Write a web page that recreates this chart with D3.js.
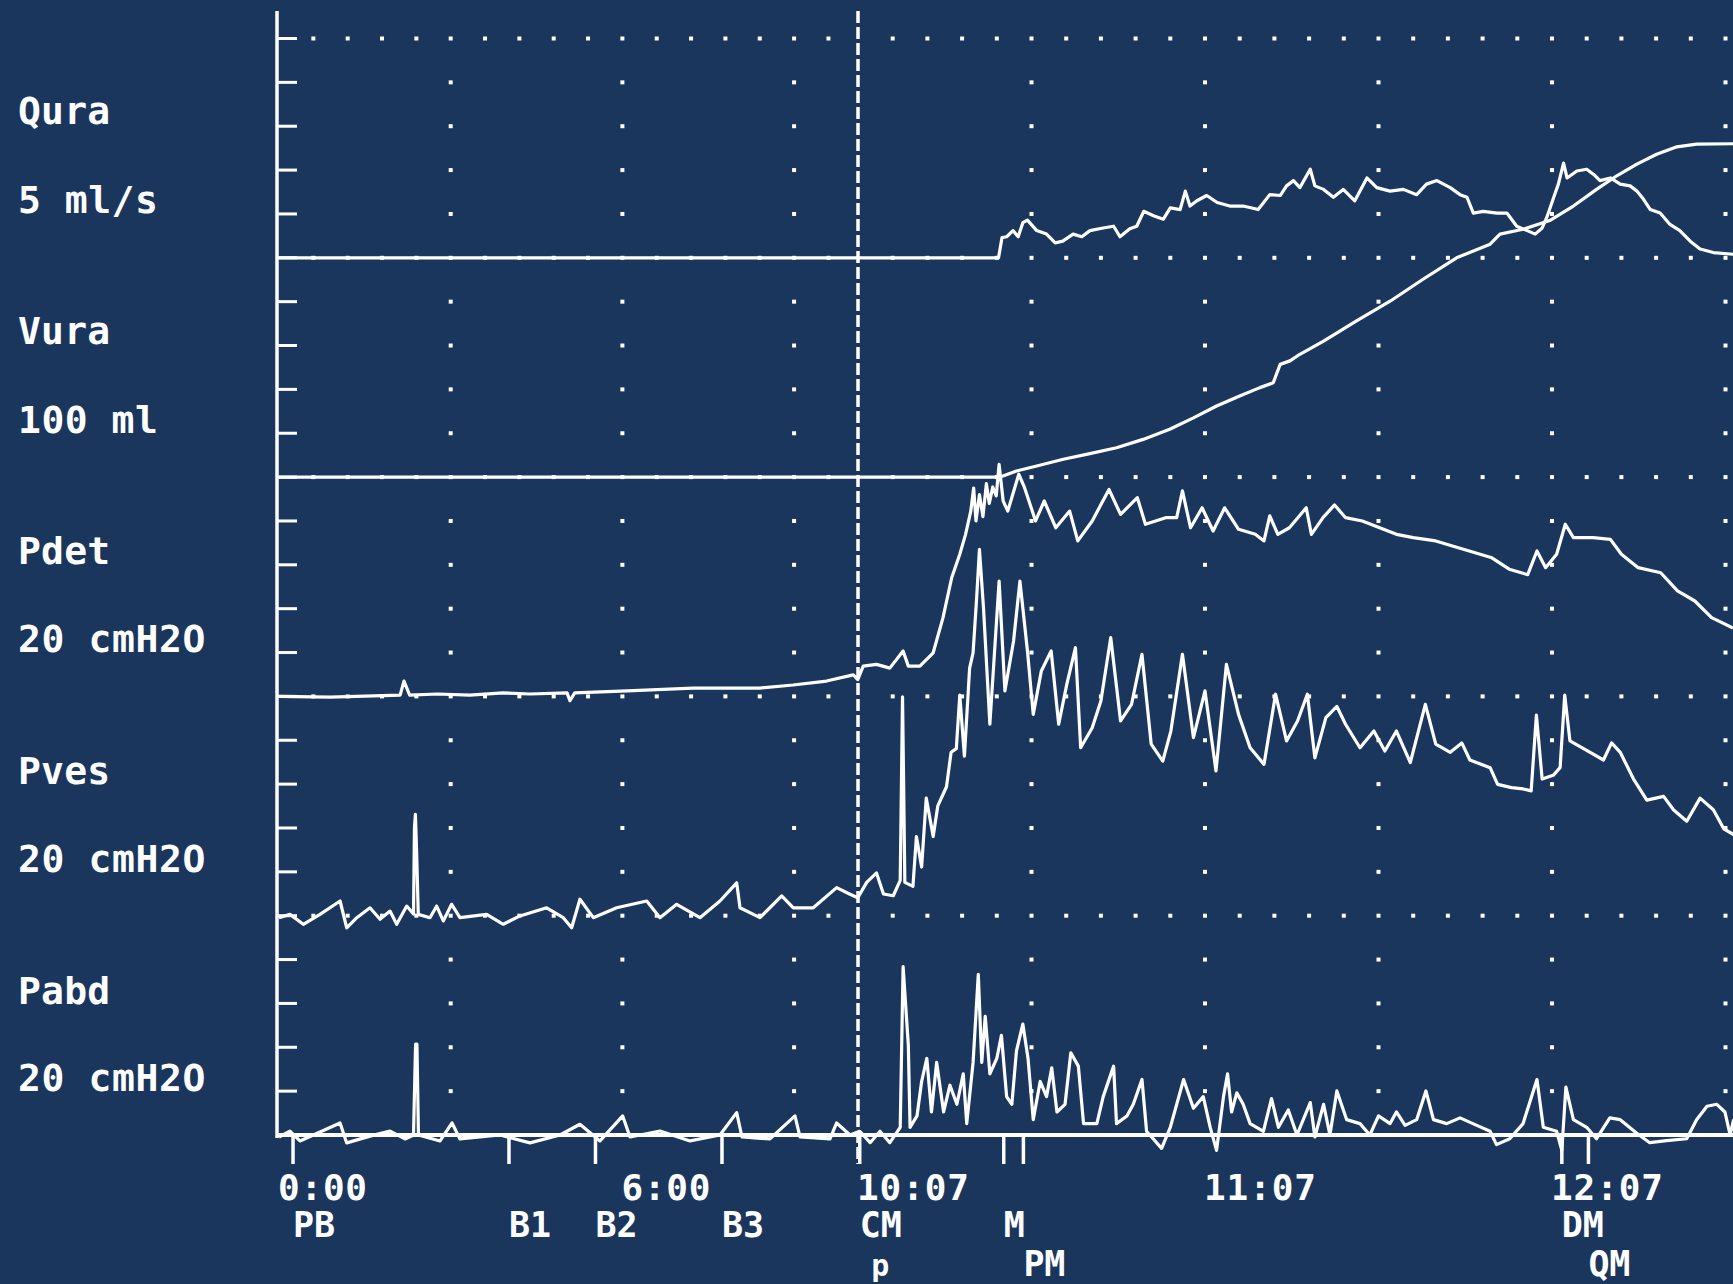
<!DOCTYPE html>
<html>
<head>
<meta charset="utf-8">
<style>
  body { margin: 0; background: #1a365d; }
  svg { display: block; }
  text { fill: #fff; font-family: "DejaVu Sans Mono", "Liberation Mono", monospace; font-weight: bold; }
</style>
</head>
<body>
<svg></svg>
<script src="https://cdnjs.cloudflare.com/ajax/libs/d3/7.8.5/d3.min.js"></script>
<script>
let width = 1733,
    height = 1284;

// channel labels and scale per division
const channelNames = ["Qura", "Vura", "Pdet", "Pves", "Pabd"];
const channelUnits = ["5 ml/s", "100 ml", "20 cmH2O", "20 cmH2O", "20 cmH2O"];
const perDivision = [5, 100, 20, 20, 20];

// time axis (seconds), labels
const timeTicks = [0, 360, 607, 667, 727];
const timeLabels = ["0:00", "6:00", "10:07", "11:07", "12:07"];

// event markers
const eventNames = ["PB", "B1", "B2", "B3", "CM", "M", "PM", "DM", "QM", "p"];
const eventTimes = [14.7, 241.1, 331.8, 464.4, 607.3, 632.2, 635.6, 728.7, 733.3, 609.3];
const eventRows = [0, 0, 0, 0, 0, 0, 1, 0, 1, 1];
const eventHasTick = [1, 1, 1, 1, 1, 1, 1, 1, 1, 0];

// traces: [time s, value]
const qura = [[0,0],[631.3,0],[631.9,2.3],[632.7,2.4],[633.8,3.1],[634.7,2.4],[635.5,4.0],[636.3,4.3],[637.9,3.1],[639.6,2.7],[641.1,1.7],[642.4,1.9],[644.2,2.7],[645.7,2.4],[647.1,3.1],[649.4,3.4],[651.2,3.6],[652.3,2.4],[654.0,3.3],[655.2,3.6],[656.4,5.3],[658.1,4.8],[659.8,4.4],[661.0,5.7],[662.7,5.5],[663.6,7.6],[664.4,5.9],[665.6,6.5],[667.3,7.1],[669.1,6.3],[671.3,5.9],[673.6,5.9],[676.2,5.5],[678.2,7.2],[680.0,7.1],[681.1,8.2],[682.3,8.8],[683.4,8.0],[685.2,10.1],[686.0,8.2],[687.5,7.8],[689.2,6.9],[690.9,7.8],[692.9,6.5],[695.0,9.1],[696.7,8.0],[699.0,7.6],[701.3,7.8],[703.6,7.2],[705.3,8.4],[707.1,8.8],[709.4,8.0],[711.1,7.2],[712.3,6.9],[713.4,5.1],[715.1,5.3],[717.5,5.1],[719.2,5.1],[720.9,3.6],[722.7,3.1],[724.1,2.7],[725.3,3.4],[726.1,4.6],[727.3,6.9],[728.1,8.4],[729.0,10.8],[729.6,9.1],[731.3,9.9],[733.0,10.1],[734.2,9.5],[735.3,8.8],[737.1,9.1],[738.8,8.4],[740.5,8.2],[741.7,7.6],[742.8,6.7],[744.0,5.5],[745.7,5.1],[747.4,3.8],[749.1,3.1],[750.9,1.9],[752.6,1.0],[754.9,0.6],[758.4,0.4]];

const vura = [[0,0],[631.6,0],[634.4,13.9],[637.9,25.3],[642.5,40.6],[647.1,53.4],[651.7,67],[656.3,86],[660.9,109],[665.0,135],[669.0,162],[673.0,185],[676.5,204],[678.8,215],[680.0,257],[681.7,265],[683.4,280],[687.5,310],[693.2,356],[699.0,401],[704.7,451],[710.5,500],[716.3,531],[718.0,554],[722.0,565],[726.6,585],[730.7,618],[734.7,656],[738.2,687],[741.6,713],[745.1,736],[748.6,753],[752.0,759],[758.4,760]];

const pdet = [[0,0],[53.5,-0.3],[127,0.6],[131,7],[137,0.6],[166,1.1],[200,0.6],[235,1.6],[263,1.1],[302,1.6],[305,-2],[310,1.6],[365,2.5],[434,3.8],[504,3.8],[539,5.2],[574,7.0],[602,9.8],[606.8,7.7],[607.9,13.8],[610.2,14.6],[612.5,12.9],[614.8,20.7],[615.7,13.8],[617.7,13.8],[620.0,19.9],[621.7,35.9],[623.2,54.1],[624.6,64.8],[625.6,73.9],[626.5,84.5],[627.0,95],[627.4,80],[628.0,92],[628.6,82],[629.2,97],[629.7,88],[630.3,95.5],[630.9,91.4],[631.4,105.8],[632.1,89.1],[632.9,84.5],[634.8,101.3],[635.8,95.2],[637.7,80.0],[639.2,89.1],[641.2,76.9],[643.6,84.5],[645.0,70.9],[647.5,80.0],[650.4,94.4],[652.4,83.0],[655.3,90.6],[656.7,78.5],[660.2,81.5],[662.1,81.5],[663.1,93.7],[664.5,76.9],[666.5,86.0],[668.4,75.4],[670.4,86.0],[672.8,76.2],[675.7,73.9],[677.2,70.9],[678.2,82.3],[679.6,73.9],[681.6,76.9],[684.5,86.0],[685.4,73.9],[687.4,81.5],[689.4,87.3],[691.3,81.5],[694.2,80.0],[697.2,76.9],[700.1,73.9],[703.0,72.4],[706.9,70.9],[710.8,67.8],[713.7,65.5],[716.6,63.2],[719.6,58.0],[722.8,55.5],[724.4,66.3],[725.9,58.7],[727.8,64.8],[729.3,78.5],[730.7,72.4],[734.1,72.4],[737.1,71.6],[739.0,64.8],[741.9,58.7],[745.8,56.4],[748.7,48.1],[751.7,43.5],[754.6,35.9],[758.3,31.2]];

const pves = [[0,-0.9],[11.5,0.6],[25.5,-3.9],[43,0.6],[64,6.7],[71,-5.5],[81.5,-0.9],[95.4,3.6],[105.9,-1.6],[116.4,2.1],[123.4,-3.9],[133.9,4.4],[141,0.8],[142,40],[143,46.2],[144.2,30],[146,0.6],[158.3,-0.9],[165.3,4.4],[172.2,-2.4],[181,5.2],[189.7,-0.9],[217.7,0.6],[235.1,-3.9],[252.6,-0.1],[280.6,3.6],[298,-0.9],[306.8,-5.5],[315.5,7.5],[329.5,-0.9],[354,3.6],[385.5,6.7],[399.4,-0.9],[416.9,5.2],[441.3,-0.9],[462.3,6.7],[479.8,15],[483.3,3.6],[504.2,-0.9],[527,9],[539.2,3.6],[560.1,3.6],[584.6,12.8],[598.6,9.8],[606.8,8.2],[608.5,15.2],[610.2,19.5],[611.4,9.9],[613.1,9.1],[614.3,16.1],[614.7,99.8],[615.1,15.2],[616.5,13.4],[617.1,36.1],[618.0,22.2],[618.8,53.6],[620.0,36.1],[620.8,50.1],[622.3,58.8],[623.1,74.5],[624.0,76.2],[624.6,100.6],[625.4,72.7],[626.3,112.9],[626.9,119.9],[627.5,144.3],[628.0,167.1],[628.7,140.4],[629.8,87.3],[631.4,152.6],[632.4,102.5],[633.9,125.3],[635.0,152.6],[636.3,120.7],[637.3,91.8],[638.7,111.6],[640.4,120.7],[641.7,87.3],[643.1,105.5],[644.6,122.2],[645.5,76.6],[647.5,85.7],[649.0,97.9],[650.7,126.8],[652.4,88.8],[654.3,96.4],[656.1,119.2],[657.7,78.2],[659.7,70.5],[661.1,84.2],[663.1,119.2],[665.0,81.2],[667.0,102.5],[668.9,66.0],[670.7,114.6],[672.8,91.8],[674.8,76.6],[677.2,69.0],[679.2,101.0],[681.1,79.7],[683.0,88.8],[684.7,101.0],[686.0,72.0],[687.9,90.3],[689.8,95.4],[691.3,87.3],[693.8,76.6],[696.2,84.2],[698.1,75.1],[700.1,84.2],[702.5,69.8],[705.1,96.4],[706.9,78.2],[709.4,74.5],[711.4,78.8],[712.8,71.0],[716.3,67.5],[717.6,59.9],[720.0,58.4],[722.0,57.8],[723.4,56.9],[724.3,91.5],[725.3,62.3],[727.2,64.0],[728.4,67.5],[729.2,100.6],[730.1,79.7],[733.6,74.5],[735.9,71.0],[737.3,78.8],[738.8,74.5],[741.1,62.3],[743.4,52.7],[746.3,54.4],[748.0,48.3],[750.3,43.1],[752.6,53.6],[754.9,48.3],[756.7,39.6],[758.4,37.0]];

const pabd = [[0,-0.9],[11.5,1.8],[22,-2.7],[43,1.4],[64,5.5],[71,-3.6],[95.4,-0.5],[116.4,1.8],[132.1,-1.8],[141,0],[143.2,41.5],[144.6,41.5],[146.2,0],[168.8,-2.7],[181.4,5.5],[189.7,-1.8],[231.7,0],[263.1,-3.6],[294.6,0],[315.5,4.9],[336.5,-2.7],[360.3,8.7],[368,-0.9],[399.4,1.8],[430.9,-2.7],[462.3,0],[479.8,10.2],[485.4,-0.9],[514.7,-1.8],[540.9,8.7],[546.2,-0.9],[577.6,-1.8],[584.6,5.5],[598.6,0],[607.3,1.7],[609.1,-3.5],[610.8,1.7],[612.5,-3.5],[614.3,3.5],[614.8,76.8],[615.7,41.0],[616.0,3.5],[617.2,8.7],[618.0,24.4],[618.9,34.9],[619.7,10.5],[620.6,33.1],[621.8,10.5],[622.9,22.7],[624.1,14.0],[625.2,27.9],[625.8,5.2],[626.9,33.1],[627.8,73.3],[628.4,33.1],[629.0,54.1],[629.8,27.9],[631.0,34.9],[631.8,45.4],[632.7,17.5],[633.6,14.0],[634.4,38.4],[635.5,50.6],[636.4,34.9],[637.3,7.0],[638.5,24.4],[639.6,17.5],[640.5,30.6],[641.4,10.5],[642.8,14.0],[643.8,37.5],[645.1,31.4],[646.0,5.2],[648.3,5.2],[649.4,17.5],[651.2,31.4],[651.7,5.2],[653.5,8.7],[654.6,14.0],[656.1,25.3],[656.9,1.7],[659.5,-6.1],[661.0,3.5],[663.3,25.3],[665.0,12.2],[666.7,17.5],[667.9,3.5],[669.0,-7.0],[670.2,17.5],[670.9,27.9],[671.6,10.5],[672.5,19.2],[673.6,14.0],[674.8,5.2],[677.1,1.7],[678.5,16.6],[679.7,3.5],[681.4,11.4],[682.9,0],[685.2,14.8],[686.0,-0.9],[687.5,14.0],[688.6,0],[689.8,20.1],[691.5,7.0],[693.8,5.2],[695.5,0],[697.0,8.7],[699.0,5.2],[700.1,10.5],[701.6,4.4],[703.6,7.0],[705.2,20.1],[706.5,7.0],[708.8,5.2],[711.1,7.8],[714.0,4.4],[716.3,1.7],[717.4,-4.4],[719.7,-1.7],[722.0,5.2],[724.4,25.3],[725.5,3.5],[727.8,1.7],[728.7,-7.0],[729.4,21.8],[730.7,7.0],[733.0,3.5],[734.7,-1.7],[737.0,7.8],[738.8,7.0],[741.6,0.9],[743.9,-3.5],[746.8,-2.6],[750.3,-1.7],[752.0,7.0],[753.8,13.1],[755.5,14.0],[756.9,10.5],[757.8,0],[758.4,7.0]];

const traces = [qura, vura, pdet, pves, pabd];

// layout
let topY = 38.5,
    chanH = 219.3,
    divH = chanH / 5,
    axisX = 277,
    bottomY = topY + 5 * chanH;

let svg = d3.select("svg").attr("width", width).attr("height", height);
svg.append("rect").attr("width", width).attr("height", height).attr("fill", "#1a365d");

// filling phase compressed (3 min / column), voiding phase expanded (30 s / column)
let x = d3.scaleLinear().domain([0, 607, 787]).range([279, 858, 1899]);

let ys = perDivision.map((p, i) =>
    d3.scaleLinear().domain([0, p * 5]).range([topY + (i + 1) * chanH, topY + i * chanH]));

// grid dots
let fineTimes = d3.range(36, 600, 36).concat(d3.range(613, 760, 6));
let coarseTimes = [180, 360, 540, 637, 667, 697, 727, 757];
let grid = svg.append("g").attr("fill", "#fff");
for (let k = 0; k < 25; k++) {
    let yy = topY + k * divH;
    let times = (k % 5 === 0) ? fineTimes : coarseTimes;
    grid.selectAll(null)
        .data(times)
        .enter()
        .append("rect")
        .attr("x", d => x(d) - 2)
        .attr("y", yy - 2)
        .attr("width", 4)
        .attr("height", 4);
}

// left axis with ticks
svg.append("line")
    .attr("x1", axisX).attr("x2", axisX)
    .attr("y1", 11).attr("y2", bottomY + 3)
    .attr("stroke", "#fff").attr("stroke-width", 3.5);

svg.append("g")
    .selectAll("line")
    .data(d3.range(0, 25))
    .enter()
    .append("line")
    .attr("x1", axisX).attr("x2", axisX + 20)
    .attr("y1", d => topY + d * divH)
    .attr("y2", d => topY + d * divH)
    .attr("stroke", "#fff").attr("stroke-width", 3);

// bottom axis
svg.append("line")
    .attr("x1", axisX).attr("x2", width)
    .attr("y1", bottomY).attr("y2", bottomY)
    .attr("stroke", "#fff").attr("stroke-width", 4);

// dashed line at 10:07
svg.append("line")
    .attr("x1", x(607)).attr("x2", x(607))
    .attr("y1", 11).attr("y2", bottomY + 29)
    .attr("stroke", "#fff").attr("stroke-width", 3.5)
    .attr("stroke-dasharray", "12 4");

// traces
traces.forEach((tr, i) => {
    let line = d3.line()
        .x(d => x(d[0]))
        .y(d => ys[i](d[1]));
    svg.append("path")
        .attr("d", line(tr))
        .attr("fill", "none")
        .attr("stroke", "#fff")
        .attr("stroke-width", 3.2)
        .attr("stroke-linejoin", "round");
});

// event ticks
svg.append("g")
    .selectAll("line")
    .data(eventTimes.filter((t, i) => eventHasTick[i]))
    .enter()
    .append("line")
    .attr("x1", d => x(d)).attr("x2", d => x(d))
    .attr("y1", bottomY).attr("y2", bottomY + 29)
    .attr("stroke", "#fff").attr("stroke-width", 3.5);

// channel labels
channelNames.forEach((n, i) => {
    svg.append("text")
        .attr("x", 18).attr("y", 124 + i * 220)
        .style("font-size", "38px")
        .attr("textLength", n.length * 23.8 - 3)
        .attr("lengthAdjust", "spacing")
        .text(n);
    let u = channelUnits[i];
    svg.append("text")
        .attr("x", 18).attr("y", 213 + i * 219.5)
        .style("font-size", "38px")
        .attr("textLength", u.length * 23.8 - 3)
        .attr("lengthAdjust", "spacing")
        .text(u);
});

// time labels
timeTicks.forEach((t, i) => {
    let s = timeLabels[i];
    svg.append("text")
        .attr("x", x(t) - 1).attr("y", 1200)
        .style("font-size", "36px")
        .attr("textLength", s.length * 23 - 3)
        .attr("lengthAdjust", "spacing")
        .text(s);
});

// event labels
eventNames.forEach((n, i) => {
    let rowY = eventRows[i] === 0 ? 1237 : 1276;
    let t = svg.append("text")
        .attr("x", x(eventTimes[i]))
        .attr("y", rowY)
        .style("font-size", n === "p" ? "30px" : "35px")
        .text(n);
    if (n.length > 1) t.attr("textLength", n.length * 21.5 - 1).attr("lengthAdjust", "spacing");
});
</script>
</body>
</html>
